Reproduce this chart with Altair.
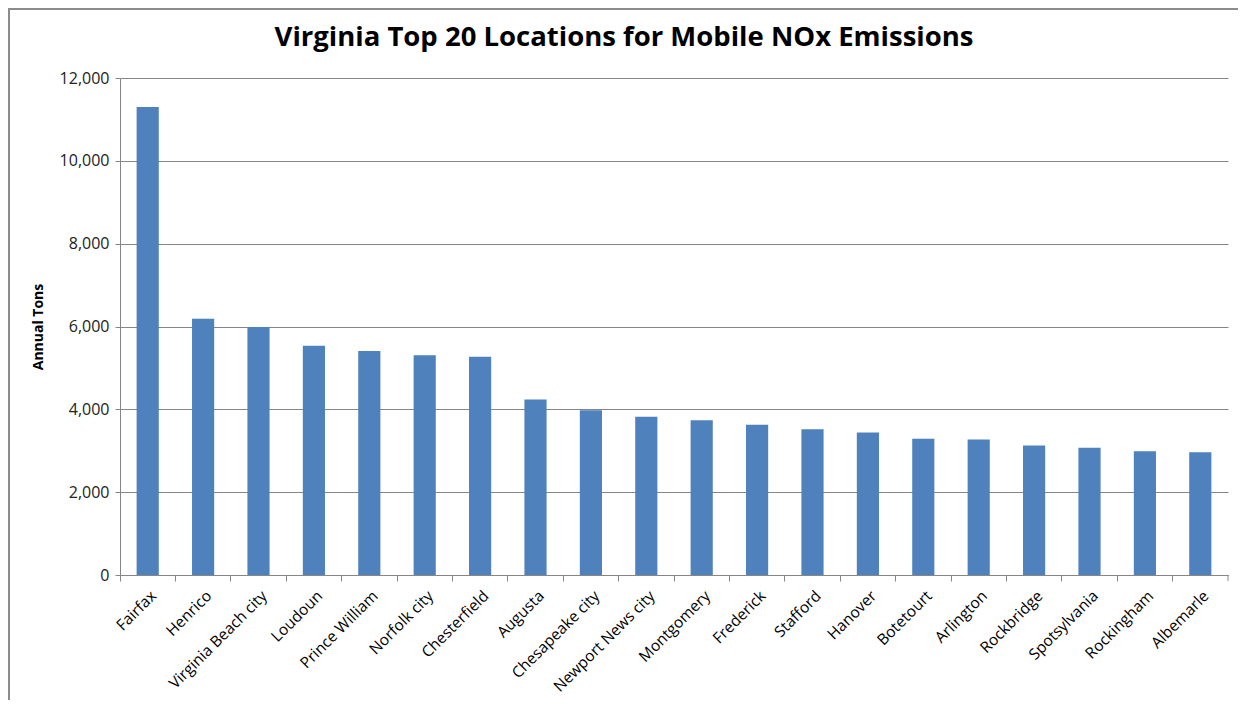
import altair as alt
import pandas as pd

TITLE = "Virginia Top 20 Locations for Mobile NOx Emissions"
locations = ["Fairfax", "Henrico", "Virginia Beach city", "Loudoun", "Prince William",
             "Norfolk city", "Chesterfield", "Augusta", "Chesapeake city", "Newport News city",
             "Montgomery", "Frederick", "Stafford", "Hanover", "Botetourt", "Arlington",
             "Rockbridge", "Spotsylvania", "Rockingham", "Albemarle"]
tons = [11300, 6190, 5990, 5535, 5410, 5305, 5270, 4240, 3975, 3820,
        3735, 3630, 3520, 3440, 3290, 3270, 3125, 3075, 2990, 2965]

df = pd.DataFrame({"Location": locations, "Tons": tons})
one = pd.DataFrame({"t": [TITLE]})

W, H = 1108, 497
PL, PT, PR, PB = 112, 70, 10, 125
FONT = "Open Sans"

bars = alt.Chart(df).mark_bar(color="#4F81BD", width=alt.RelativeBandSize(0.4)).encode(
    x=alt.X("Location:N", sort=locations, title=None,
            scale=alt.Scale(paddingInner=0, paddingOuter=0),
            axis=alt.Axis(labelAngle=-45, labelAlign="right", labelBaseline="top",
                          labelFont=FONT, labelFontSize=15.5,
                          labelColor="#000000", bandPosition=0, tickSize=6,
                          tickColor="#868686", domainColor="#868686",
                          labelPadding=7, labelOffset=1, grid=False,
                          labelOverlap=False)),
    y=alt.Y("Tons:Q", title="Annual Tons",
            scale=alt.Scale(domain=[0, 12000]),
            axis=alt.Axis(values=[0, 2000, 4000, 6000, 8000, 10000, 12000], format=",d",
                          labelFont=FONT, labelFontSize=16, labelColor="#222222",
                          tickSize=5, tickColor="#868686", domainColor="#868686",
                          gridColor="#868686", labelPadding=6,
                          titleFont=FONT, titleFontSize=14, titleFontWeight="bold",
                          titleColor="#000000", titlePadding=14)),
)

end_tick = alt.Chart(one).mark_rule(color="#868686").encode(
    x=alt.value(W), y=alt.value(H), y2=alt.value(H + 6)
)

# chart-area frame (top and left edges, as in the reference)
frame_top = alt.Chart(one).mark_rule(color="#8c8c8c", strokeWidth=2).encode(
    x=alt.value(-PL), x2=alt.value(W + PR), y=alt.value(-PT + 1)
)
frame_left = alt.Chart(one).mark_rule(color="#8c8c8c", strokeWidth=2).encode(
    x=alt.value(-PL + 1), y=alt.value(-PT), y2=alt.value(H + PB)
)

title = alt.Chart(one).mark_text(font=FONT, fontSize=27.5, fontWeight="bold",
                                  color="#000000", align="center", baseline="middle").encode(
    text="t:N", x=alt.value(W / 2 - 50), y=alt.value(-40)
)

chart = alt.layer(bars, end_tick, frame_top, frame_left, title).properties(
    width=W, height=H,
    padding={"left": PL, "top": PT, "right": PR, "bottom": PB},
    autosize=alt.AutoSizeParams(type="none"),
).configure_view(stroke=None)

chart.save("out.html", embed_options={"renderer": "svg", "actions": False})
